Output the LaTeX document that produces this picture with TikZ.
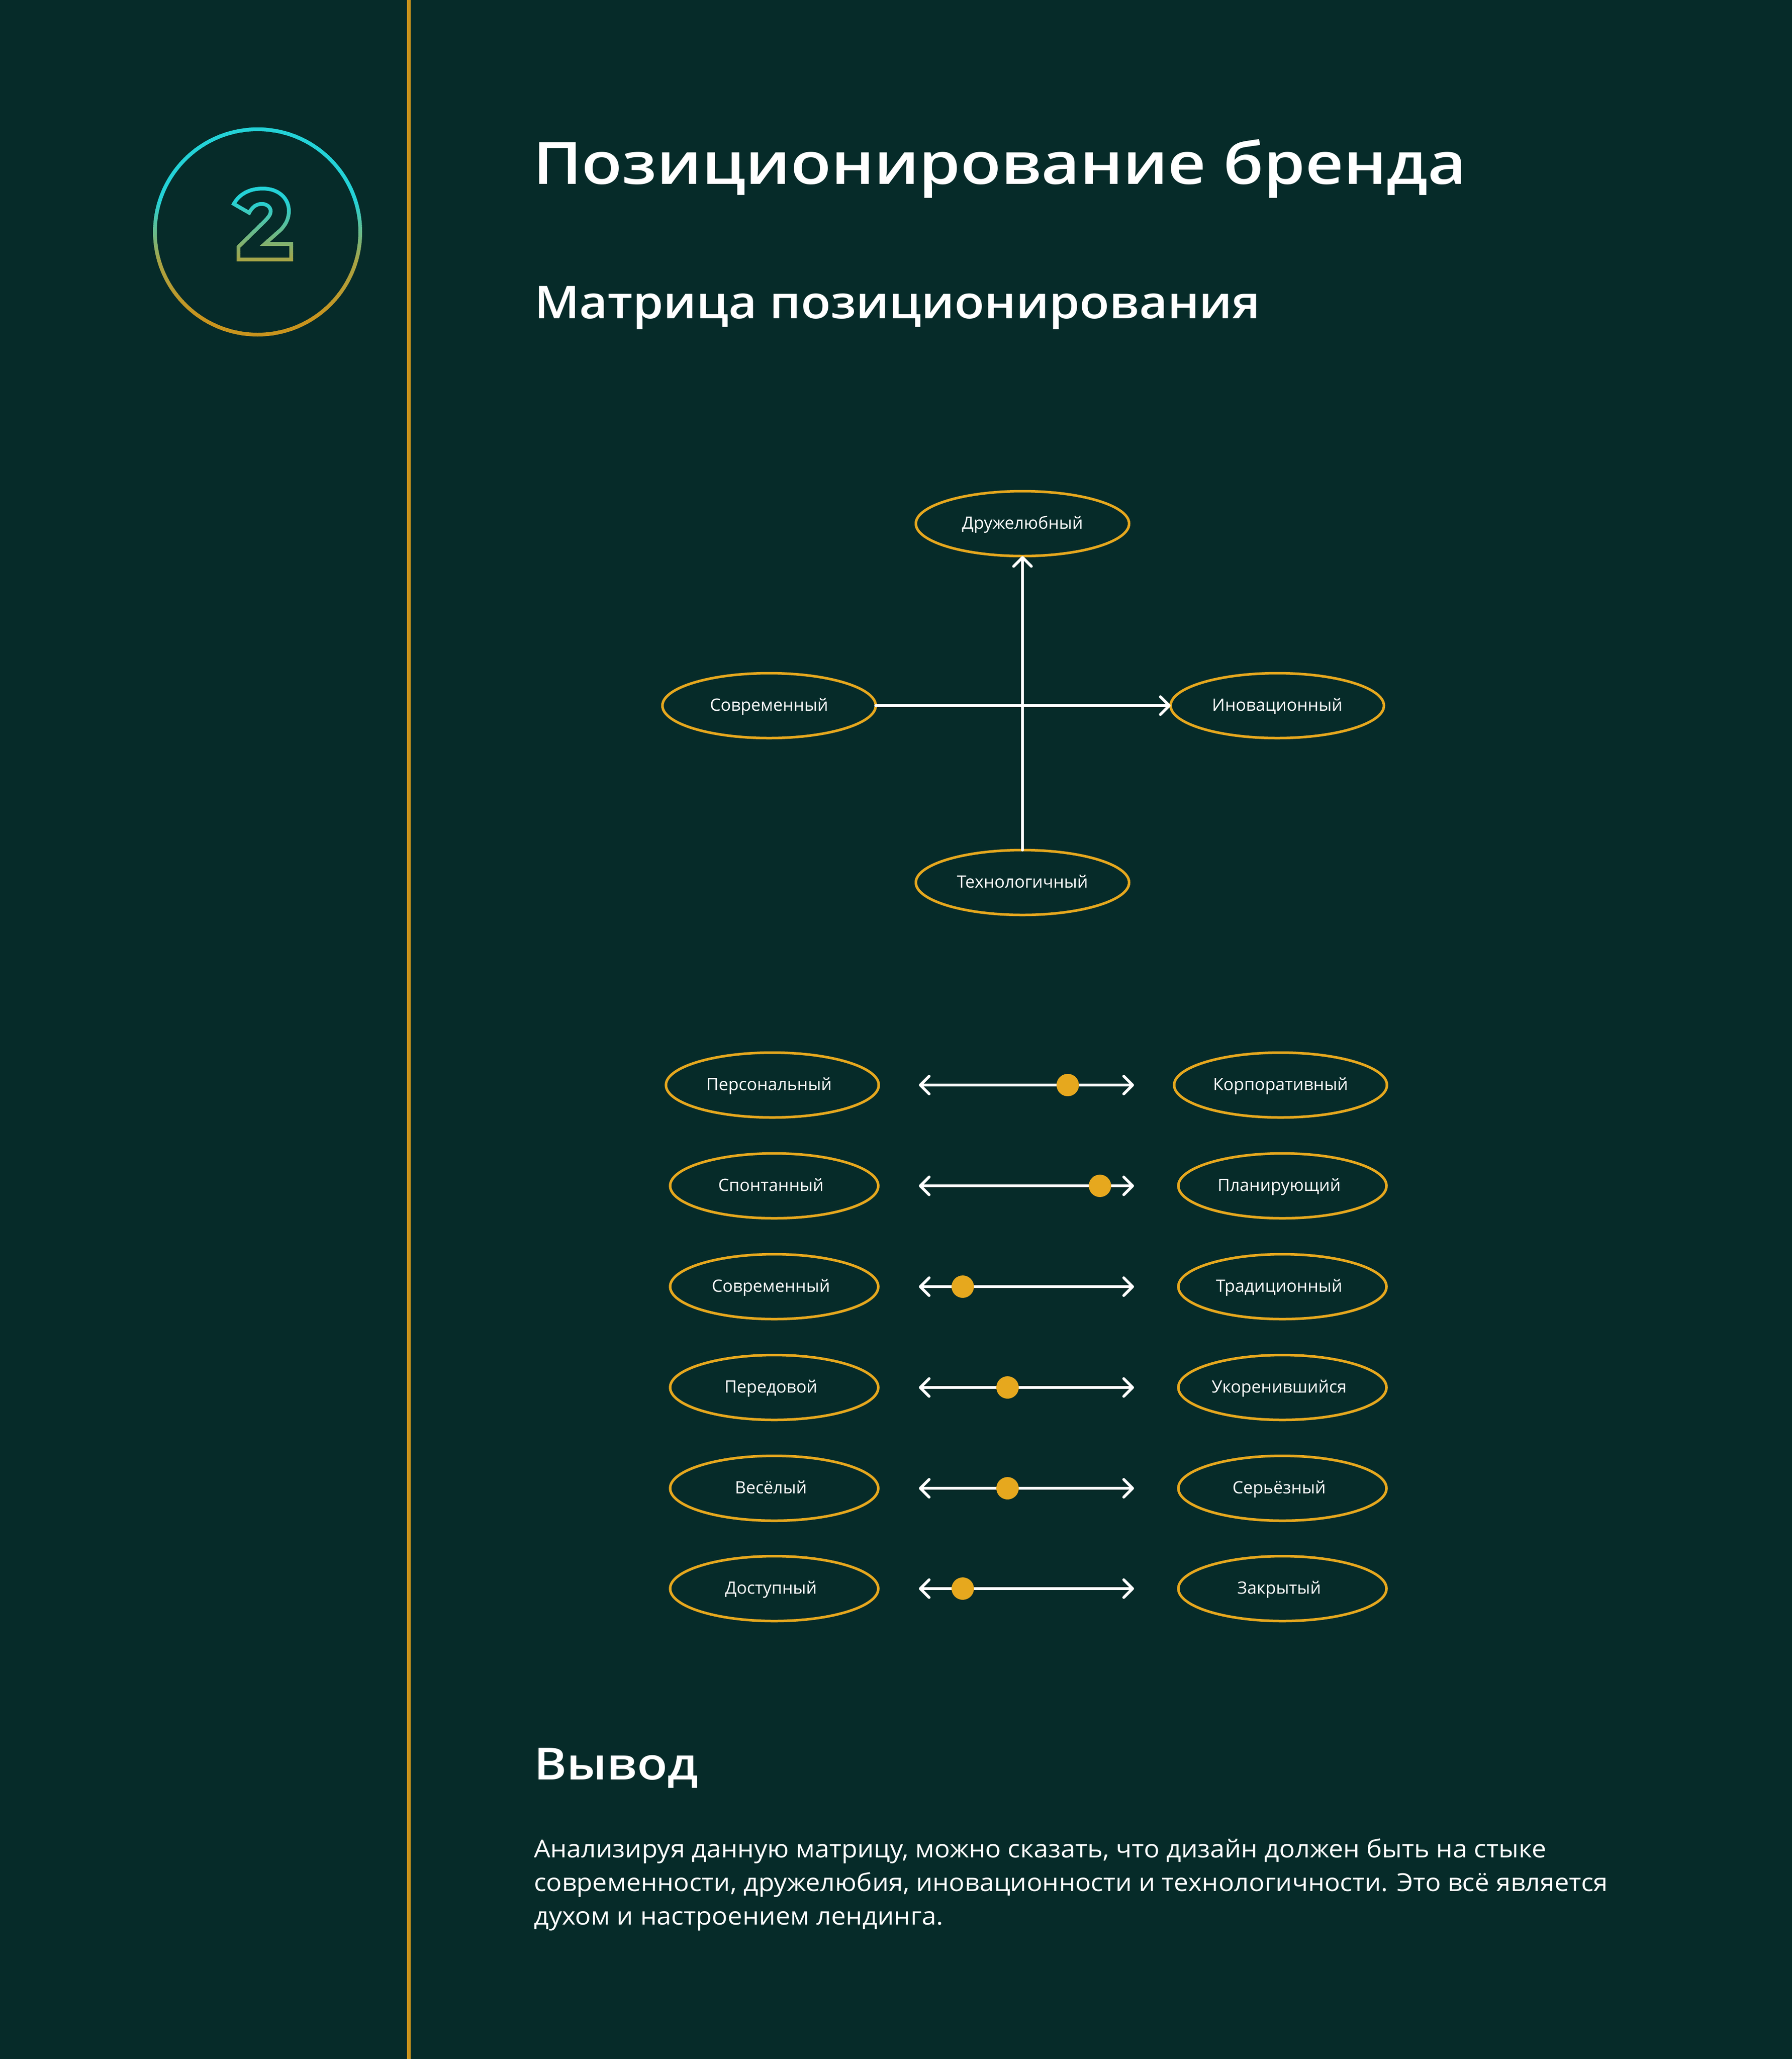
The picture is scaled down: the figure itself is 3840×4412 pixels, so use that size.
\documentclass[tikz,border=0pt]{standalone}
\usepackage{fontspec}
\usepackage{graphicx}
\usetikzlibrary{shapes.geometric,arrows.meta}
\setmainfont{Open Sans}
\IfFontExistsTF{Open Sans SemiBold}{\newfontfamily\headfont{Open Sans SemiBold}}{%
 \IfFontExistsTF{Open Sans Semibold}{\newfontfamily\headfont{Open Sans Semibold}}{%
  \newfontfamily\headfontx{Open Sans}\newcommand{\headfont}{\headfontx\bfseries}}}
\definecolor{bg}{RGB}{6,43,41}
\definecolor{gold}{RGB}{230,168,30}
\definecolor{vgold}{RGB}{200,146,28}
\definecolor{cyanc}{RGB}{36,210,215}
\definecolor{olivec}{RGB}{168,164,68}
\definecolor{goldc}{RGB}{200,148,30}
\newcommand{\digitpath}{(501,437) .. controls (513,415) and (536,404) .. (563,404) .. controls (597,404) and (619,425) .. (619,452) .. controls (619,468) and (613,480) .. (602,492) -- (567,523) -- (624,523) -- (624,556) -- (511,556) -- (511,529) -- (567,474) .. controls (576,465) and (580,459) .. (580,453) .. controls (580,443) and (571,437) .. (561,437) .. controls (549,437) and (540,444) .. (534,456) -- cycle}
% label text shifted 7pt to the left of the ellipse centre
\newcommand{\shl}[1]{\makebox[0pt]{#1\hspace{14pt}}}
\tikzset{
  txt/.style={inner sep=0pt, outer sep=0pt, text=white},
  lab/.style={ellipse, draw=gold, line width=5.5pt, inner sep=0pt, outer sep=0pt,
    minimum width=446pt, minimum height=139pt, text=white,
    font=\fontsize{36.5pt}{36.5pt}\selectfont, text height=22pt, text depth=0pt},
  labwide/.style={lab, minimum width=456pt},
  conn/.style={white, line width=6pt, line cap=round},
  dot/.style={circle, fill=gold, inner sep=0pt, minimum size=48pt},
  >={Straight Barb[length=19pt,width=38pt,round]}
}
\begin{document}
\begin{tikzpicture}[x=1pt,y=-1pt]
\useasboundingbox (0,0) rectangle (3840,4412);
\fill[bg] (0,0) rectangle (3840,4412);
% vertical rule
\draw[vgold, line width=8pt] (876,0) -- (876,4412);
% badge with gradient
\foreach \i in {0,...,91}{
  \pgfmathsetmacro{\ya}{268+5*\i}
  \pgfmathsetmacro{\yb}{\ya+5.6}
  \pgfmathtruncatemacro{\pa}{max(0,min(100,(\ya+2.5-430)/1.3))}
  \pgfmathtruncatemacro{\pb}{max(0,min(100,(\ya+2.5-560)/1.2))}
  \colorlet{bandA}{olivec!\pa!cyanc}
  \colorlet{bandc}{goldc!\pb!bandA}
  \begin{scope}
    \clip (300,\ya) rectangle (800,\yb);
    \draw[bandc, line width=8pt] (552,497) circle[radius=220pt];
    \draw[bandc, line width=8pt, line join=miter] \digitpath;
  \end{scope}
}
% headings
\node[txt, anchor=base west] (title) at (1142,394) {\resizebox{2000pt}{\height}{\headfont\fontsize{125pt}{125pt}\selectfont Позиционирование бренда}};
\node[txt, anchor=base west] (subtitle) at (1145,682) {\resizebox{1556pt}{\height}{\headfont\fontsize{97pt}{97pt}\selectfont Матрица позиционирования}};
% cross diagram
\node[lab, minimum width=457pt] (up) at (2191,1122) {Дружелюбный};
\node[lab, minimum width=457pt] (left) at (1648,1512) {Современный};
\node[lab, minimum width=457pt] (right) at (2737,1512) {Иновационный};
\node[lab, minimum width=457pt] (down) at (2191,1891) {Технологичный};
\draw[conn, ->] (left.east) -- (right.west);
\draw[conn, ->] (down.north) -- (up.south);
% scales
\node[labwide] (l1) at (1655,2325) {\shl{Персональный}};
\node[labwide] (r1) at (2744,2325) {Корпоративный};
\node[lab] (l2) at (1659,2541) {\shl{Спонтанный}};
\node[lab] (r2) at (2748,2541) {\shl{Планирующий}};
\node[lab] (l3) at (1659,2757) {\shl{Современный}};
\node[lab] (r3) at (2748,2757) {\shl{Традиционный}};
\node[lab] (l4) at (1659,2973) {\shl{Передовой}};
\node[lab] (r4) at (2748,2973) {\shl{Укоренившийся}};
\node[lab] (l5) at (1659,3189) {\shl{Весёлый}};
\node[lab] (r5) at (2748,3189) {\shl{Серьёзный}};
\node[lab] (l6) at (1659,3404) {\shl{Доступный}};
\node[lab] (r6) at (2748,3404) {\shl{Закрытый}};
\foreach \k/\yy/\dx in {1/2325/2288, 2/2541/2357, 3/2757/2063, 4/2973/2159, 5/3189/2159, 6/3404/2063}{
  \coordinate (a\k) at (1969,\yy);
  \coordinate (b\k) at (2430,\yy);
  \draw[conn, <->] (a\k) -- (b\k);
  \node[dot] (d\k) at (\dx,\yy) {};
}
% conclusion
\node[txt, anchor=base west] (concl) at (1144,3813) {\resizebox{352pt}{\height}{\headfont\fontsize{95pt}{95pt}\selectfont Вывод}};
\node[txt, anchor=base west] (body1) at (1144,3980) {\resizebox{2169pt}{\height}{\fontsize{53pt}{53pt}\selectfont Анализируя данную матрицу, можно сказать, что дизайн должен быть на стыке}};
\node[txt, anchor=base west] (body2) at (1144,4052) {\resizebox{2301pt}{\height}{\fontsize{53pt}{53pt}\selectfont современности, дружелюбия, иновационности и технологичности. Это всё является}};
\node[txt, anchor=base west] (body3) at (1144,4124) {\resizebox{877pt}{\height}{\fontsize{53pt}{53pt}\selectfont духом и настроением лендинга.}};
\end{tikzpicture}
\end{document}
